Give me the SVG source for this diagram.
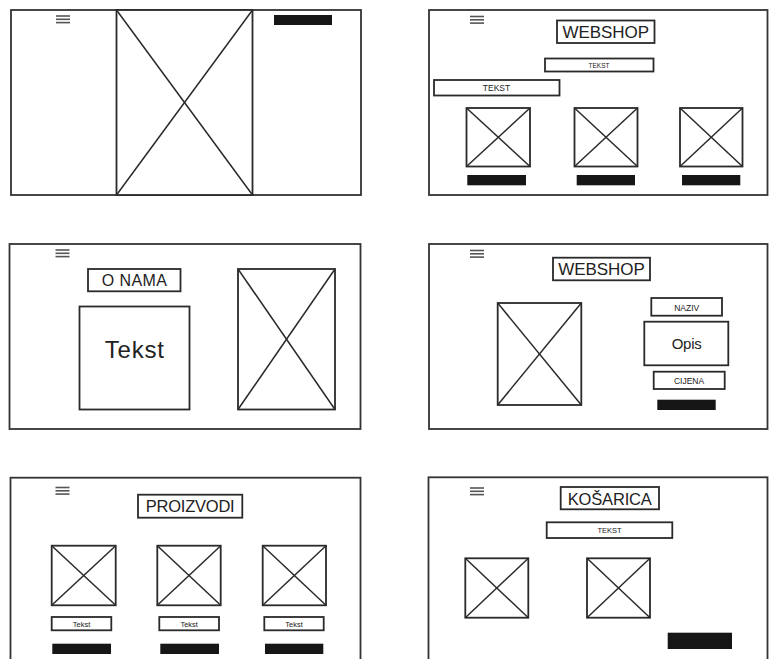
<svg xmlns="http://www.w3.org/2000/svg" width="769" height="659" viewBox="0 0 769 659">
<style>
.frame{fill:#fff;stroke:#333;stroke-width:1.8}
.box{fill:#fff;stroke:#2a2a2a;stroke-width:1.8}
.x{stroke:#2a2a2a;stroke-width:1.5;fill:none}
.bar{fill:#161616}
.hb{stroke:#555;stroke-width:1.6}
.t{font-family:"Liberation Sans",Arial,sans-serif;fill:#222;text-anchor:middle}
</style>
<defs>
<g id="hamb"><line class="hb" x1="0" y1="0" x2="14" y2="0"/><line class="hb" x1="0" y1="3.3" x2="14" y2="3.3"/><line class="hb" x1="0" y1="6.6" x2="14" y2="6.6"/></g>
</defs>
<rect width="769" height="659" fill="#fff"/>

<g id="panel1">
<rect class="frame" x="11" y="10" width="350" height="185"/>
<use href="#hamb" x="56" y="16"/>
<rect class="box" x="116.5" y="10" width="136" height="185"/>
<line class="x" x1="116.5" y1="10" x2="252.5" y2="195"/><line class="x" x1="252.5" y1="10" x2="116.5" y2="195"/>
<rect class="bar" x="274" y="15" width="58" height="10"/>
</g>

<g id="panel2">
<rect class="frame" x="429" y="10" width="338.5" height="185"/>
<use href="#hamb" x="470" y="16.5"/>
<rect class="box" x="557" y="20.5" width="97.5" height="22.5"/>
<text class="t" x="605.8" y="37.5" font-size="17" textLength="86.5">WEBSHOP</text>
<rect class="box" x="545" y="58.5" width="108.5" height="13"/>
<text class="t" x="599" y="67.5" font-size="6.5">TEKST</text>
<rect class="box" x="434" y="80" width="125.5" height="15.5"/>
<text class="t" x="496.5" y="90.5" font-size="8.5">TEKST</text>
<rect class="box" x="466.5" y="108" width="63.5" height="58.5"/>
<line class="x" x1="466.5" y1="108" x2="530" y2="166.5"/><line class="x" x1="530" y1="108" x2="466.5" y2="166.5"/>
<rect class="box" x="574.5" y="108" width="63" height="58.5"/>
<line class="x" x1="574.5" y1="108" x2="637.5" y2="166.5"/><line class="x" x1="637.5" y1="108" x2="574.5" y2="166.5"/>
<rect class="box" x="680" y="108" width="62.5" height="58.5"/>
<line class="x" x1="680" y1="108" x2="742.5" y2="166.5"/><line class="x" x1="742.5" y1="108" x2="680" y2="166.5"/>
<rect class="bar" x="467.3" y="175" width="58.7" height="10.3"/>
<rect class="bar" x="576.7" y="175" width="58.3" height="10.3"/>
<rect class="bar" x="682" y="175" width="58.3" height="10.3"/>
</g>

<g id="panel3">
<rect class="frame" x="9.5" y="244" width="351" height="185"/>
<use href="#hamb" x="55.5" y="250"/>
<rect class="box" x="88" y="269" width="92.5" height="22.3"/>
<text class="t" x="134.3" y="286" font-size="16" textLength="65">O NAMA</text>
<rect class="box" x="79.5" y="306.5" width="110" height="103"/>
<text class="t" x="134.3" y="358.3" font-size="24" textLength="59">Tekst</text>
<rect class="box" x="238" y="269" width="97" height="140.5"/>
<line class="x" x1="238" y1="269" x2="335" y2="409.5"/><line class="x" x1="335" y1="269" x2="238" y2="409.5"/>
</g>

<g id="panel4">
<rect class="frame" x="429" y="244" width="338.5" height="185"/>
<use href="#hamb" x="470" y="250.5"/>
<rect class="box" x="553" y="257.7" width="97" height="22.6"/>
<text class="t" x="601.5" y="274.9" font-size="17" textLength="86.5">WEBSHOP</text>
<rect class="box" x="497.7" y="303" width="83.6" height="102"/>
<line class="x" x1="497.7" y1="303" x2="581.3" y2="405"/><line class="x" x1="581.3" y1="303" x2="497.7" y2="405"/>
<rect class="box" x="651.3" y="298" width="70.7" height="17.7"/>
<text class="t" x="686.7" y="310.5" font-size="8.5">NAZIV</text>
<rect class="box" x="644.3" y="321.7" width="84" height="43.6"/>
<text class="t" x="686.7" y="349.3" font-size="15" textLength="30">Opis</text>
<rect class="box" x="653.7" y="371.7" width="71" height="17.3"/>
<text class="t" x="689" y="384" font-size="8.5">CIJENA</text>
<rect class="bar" x="657.3" y="399.7" width="58.4" height="10.3"/>
</g>

<g id="panel5">
<rect class="frame" x="10.5" y="477.7" width="350" height="190"/>
<use href="#hamb" x="55.5" y="487.5"/>
<rect class="box" x="138" y="494.7" width="104.3" height="23"/>
<text class="t" x="190.2" y="511.9" font-size="16.5" textLength="89">PROIZVODI</text>
<rect class="box" x="51.7" y="545.7" width="64" height="59.6"/>
<line class="x" x1="51.7" y1="545.7" x2="115.7" y2="605.3"/><line class="x" x1="115.7" y1="545.7" x2="51.7" y2="605.3"/>
<rect class="box" x="157.3" y="545.7" width="63.4" height="59.6"/>
<line class="x" x1="157.3" y1="545.7" x2="220.7" y2="605.3"/><line class="x" x1="220.7" y1="545.7" x2="157.3" y2="605.3"/>
<rect class="box" x="262.7" y="545.7" width="63.3" height="59.6"/>
<line class="x" x1="262.7" y1="545.7" x2="326" y2="605.3"/><line class="x" x1="326" y1="545.7" x2="262.7" y2="605.3"/>
<rect class="box" x="51.7" y="617" width="59.6" height="13.3"/>
<text class="t" x="81.5" y="626.5" font-size="7.5">Tekst</text>
<rect class="box" x="159.3" y="617" width="59.7" height="13.3"/>
<text class="t" x="189.2" y="626.5" font-size="7.5">Tekst</text>
<rect class="box" x="264.3" y="617" width="59.4" height="13.3"/>
<text class="t" x="294" y="626.5" font-size="7.5">Tekst</text>
<rect class="bar" x="52.3" y="643.7" width="58.7" height="10.3"/>
<rect class="bar" x="160.3" y="643.7" width="58.7" height="10.3"/>
<rect class="bar" x="265" y="643.7" width="58.3" height="10.3"/>
</g>

<g id="panel6">
<rect class="frame" x="428.5" y="477.3" width="339" height="190"/>
<use href="#hamb" x="470" y="488"/>
<rect class="box" x="560.7" y="487" width="98.3" height="22.3"/>
<text class="t" x="609.8" y="504.5" font-size="16.5" textLength="84">KOŠARICA</text>
<rect class="box" x="546.7" y="522.3" width="125.6" height="15.7"/>
<text class="t" x="609.5" y="532.9" font-size="7.5">TEKST</text>
<rect class="box" x="465.3" y="558.3" width="63" height="59.4"/>
<line class="x" x1="465.3" y1="558.3" x2="528.3" y2="617.7"/><line class="x" x1="528.3" y1="558.3" x2="465.3" y2="617.7"/>
<rect class="box" x="587" y="558.3" width="63" height="59.4"/>
<line class="x" x1="587" y1="558.3" x2="650" y2="617.7"/><line class="x" x1="650" y1="558.3" x2="587" y2="617.7"/>
<rect class="bar" x="667.7" y="632.7" width="64.3" height="16.3"/>
</g>
</svg>
